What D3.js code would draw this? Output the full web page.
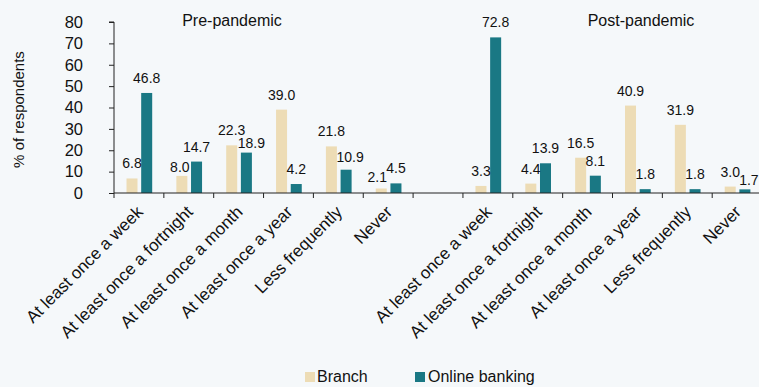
<!DOCTYPE html>
<html>
<head>
<meta charset="utf-8">
<script src="https://cdn.jsdelivr.net/npm/d3@7"></script>
<style>
  html, body { margin: 0; padding: 0; background: #f5f8fa; }
  svg { display: block; font-family: "Liberation Sans", Arial, sans-serif; }
</style>
</head>
<body>
<svg id="chart" width="759" height="387"></svg>
<script>
// Frequency categories, shown once per period
const categories = ["At least once a week", "At least once a fortnight", "At least once a month",
                    "At least once a year", "Less frequently", "Never"];
const periods = ["Pre-pandemic", "Post-pandemic"];
const seriesNames = ["Branch", "Online banking"];

// % of respondents
const branchPre  = [6.8, 8.0, 22.3, 39.0, 21.8, 2.1];
const onlinePre  = [46.8, 14.7, 18.9, 4.2, 10.9, 4.5];
const branchPost = [3.3, 4.4, 16.5, 40.9, 31.9, 3.0];
const onlinePost = [72.8, 13.9, 8.1, 1.8, 1.8, 1.7];

const yTicks = [0, 10, 20, 30, 40, 50, 60, 70, 80];
const colors = ["#eddcb5", "#1a7884"];

// Hand-placed label nudges [dx, dy] so neighbouring value labels don't collide
const labelNudge = {
  "pre-1-0": [-2, 6],
  "pre-2-1": [5, 5],
  "pre-4-1": [4, 2],
  "pre-5-0": [-4, 3],
  "post-5-1": [4, 6]
};

// Slots: six pre-pandemic categories, one empty spacer, six post-pandemic categories
const slots = [];
categories.forEach((c, i) => slots.push({ key: "pre-" + i, label: c, values: [branchPre[i], onlinePre[i]] }));
slots.push({ key: "gap", label: "", values: null });
categories.forEach((c, i) => slots.push({ key: "post-" + i, label: c, values: [branchPost[i], onlinePost[i]] }));

const svg = d3.select("#chart");
const plotLeft = 114, plotBottom = 193, plotTop = 22;
const step = 49.85;

const x = d3.scaleBand()
  .domain(slots.map(d => d.key))
  .range([plotLeft, plotLeft + step * slots.length])
  .paddingInner(0).paddingOuter(0);

const xInner = d3.scaleBand()
  .domain(seriesNames)
  .range([12.5, 38.2])
  .paddingInner(0.25);

const y = d3.scaleLinear().domain([0, 80]).range([plotBottom, plotTop]);

// Y axis
const yAxis = svg.append("g")
  .attr("transform", `translate(${plotLeft},0)`)
  .call(d3.axisLeft(y).tickValues(yTicks).tickSize(5).tickPadding(26).tickFormat(d3.format("d")));
yAxis.select(".domain").attr("stroke", "#222").attr("d", `M-5,${y(80)}H0V${y(0)}`);
yAxis.selectAll(".tick line").attr("stroke", "#222");
yAxis.selectAll(".tick text").attr("font-size", 16.5).attr("fill", "#111")
  .attr("font-family", "Liberation Sans, Arial, sans-serif");

// Y axis title
svg.append("text")
  .attr("transform", `translate(24,${(plotTop + plotBottom) / 2 + 2}) rotate(-90)`)
  .attr("text-anchor", "middle")
  .attr("font-size", 15)
  .attr("fill", "#111")
  .text("% of respondents");

// Bars
const groups = svg.append("g").selectAll("g")
  .data(slots.filter(d => d.values))
  .join("g")
  .attr("transform", d => `translate(${x(d.key)},0)`);

const barData = d => d.values.map((v, i) => ({
  name: seriesNames[i], value: v, nudge: labelNudge[d.key + "-" + i] || [0, 0]
}));

groups.selectAll("rect")
  .data(barData)
  .join("rect")
  .attr("x", d => xInner(d.name))
  .attr("width", xInner.bandwidth())
  .attr("y", d => y(d.value))
  .attr("height", d => y(0) - y(d.value))
  .attr("fill", (d, i) => colors[i]);

// Value labels
groups.selectAll("text")
  .data(barData)
  .join("text")
  .attr("x", d => xInner(d.name) + xInner.bandwidth() / 2 + d.nudge[0])
  .attr("y", d => y(d.value) - 10 + d.nudge[1])
  .attr("text-anchor", "middle")
  .attr("font-size", 14)
  .attr("fill", "#111")
  .text(d => d3.format(".1f")(d.value));

// X axis: baseline with ticks on slot boundaries
const boundaries = slots.map(d => x(d.key));
const xAxis = svg.append("g");
xAxis.append("line")
  .attr("x1", plotLeft).attr("x2", 759)
  .attr("y1", plotBottom).attr("y2", plotBottom)
  .attr("stroke", "#222");
xAxis.selectAll("line.tick")
  .data(boundaries)
  .join("line")
  .attr("class", "tick")
  .attr("x1", d => d).attr("x2", d => d)
  .attr("y1", plotBottom).attr("y2", plotBottom + 5)
  .attr("stroke", "#222");

// Category labels, rotated
xAxis.selectAll("text")
  .data(slots.filter(d => d.label))
  .join("text")
  .attr("transform", d => `translate(${x(d.key) + x.bandwidth() / 2 + 5},${plotBottom + 20}) rotate(-45)`)
  .attr("text-anchor", "end")
  .attr("font-size", 17)
  .attr("fill", "#111")
  .text(d => d.label);

// Period titles
const periodCenters = [232, 641];
svg.selectAll("text.period")
  .data(periods)
  .join("text")
  .attr("class", "period")
  .attr("x", (d, i) => periodCenters[i])
  .attr("y", 26)
  .attr("text-anchor", "middle")
  .attr("font-size", 16)
  .attr("fill", "#111")
  .text(d => d);

// Legend
const legendX = [305, 415];
const legend = svg.append("g").selectAll("g")
  .data(seriesNames)
  .join("g")
  .attr("transform", (d, i) => `translate(${legendX[i]},372)`);
legend.append("rect")
  .attr("width", 10).attr("height", 10)
  .attr("fill", (d, i) => colors[i]);
legend.append("text")
  .attr("x", (d, i) => i === 0 ? 12 : 13)
  .attr("y", 10)
  .attr("font-size", 16)
  .attr("fill", "#111")
  .text(d => d);
</script>
</body>
</html>
